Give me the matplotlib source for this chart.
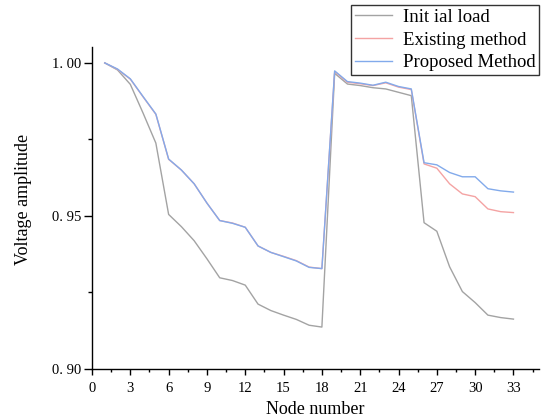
import matplotlib
matplotlib.use("Agg")
import matplotlib.pyplot as plt
from matplotlib.ticker import MultipleLocator

nodes = list(range(1, 34))
initial_load = [1.0000, 0.9977, 0.9930, 0.9836, 0.9738, 0.9505, 0.9465, 0.9419, 0.9360, 0.9298,
                0.9289, 0.9274, 0.9212, 0.9191, 0.9176, 0.9162, 0.9143, 0.9137,
                0.9966, 0.9931, 0.9926, 0.9919, 0.9915, 0.9904, 0.9893,
                0.9478, 0.9450, 0.9334, 0.9253, 0.9217, 0.9176, 0.9168, 0.9163]
existing_method = [1.0000, 0.9979, 0.9947, 0.9889, 0.9832, 0.9685, 0.9650, 0.9605, 0.9542, 0.9485,
                   0.9477, 0.9463, 0.9402, 0.9381, 0.9368, 0.9354, 0.9333, 0.9328,
                   0.9972, 0.9937, 0.9932, 0.9926, 0.9935, 0.9921, 0.9913,
                   0.9670, 0.9656, 0.9605, 0.9572, 0.9563, 0.9523, 0.9514, 0.9511]
proposed_method = [1.0000, 0.9980, 0.9948, 0.9890, 0.9833, 0.9686, 0.9650, 0.9605, 0.9542, 0.9485,
                   0.9476, 0.9463, 0.9402, 0.9381, 0.9367, 0.9353, 0.9332, 0.9328,
                   0.9974, 0.9939, 0.9934, 0.9927, 0.9937, 0.9923, 0.9915,
                   0.9674, 0.9667, 0.9642, 0.9628, 0.9628, 0.9589, 0.9582, 0.9578]
series_labels = ["Init ial load", "Existing method", "Proposed Method"]
xticks = [0, 3, 6, 9, 12, 15, 18, 21, 24, 27, 30, 33]
yticks = [0.90, 0.95, 1.00]
ytick_labels = ["0. 90", "0. 95", "1. 00"]

plt.rcParams['font.family'] = ['Liberation Serif', 'DejaVu Serif']

fig = plt.figure(figsize=(5.42, 4.18), dpi=100)
W, H = 542, 418
left, right, top, bottom = 92, 539, 47, 369
ax = fig.add_axes([left / W, 1 - bottom / H, (right - left) / W, (bottom - top) / H])

ax.plot(nodes, initial_load, color='#a3a3a3', lw=1.0, label=series_labels[0])
ax.plot(nodes, existing_method, color='#f4a3a3', lw=1.0, label=series_labels[1])
ax.plot(nodes, proposed_method, color='#82aaeb', lw=1.0, label=series_labels[2])

ax.set_xlim(0, 35)
ax.set_ylim(0.90, 1.0052)
ax.set_xticks(xticks)
ax.set_yticks(yticks)
ax.set_yticklabels(ytick_labels)
ax.xaxis.set_minor_locator(MultipleLocator(1.5))
ax.yaxis.set_minor_locator(MultipleLocator(0.025))
ax.tick_params(axis='both', which='both', direction='out', labelsize=10.5, width=1.0, colors='black')
ax.tick_params(axis='y', which='major', length=6, pad=2)
ax.tick_params(axis='y', which='minor', length=3)
ax.tick_params(axis='x', which='major', length=4, pad=5)
ax.tick_params(axis='x', which='minor', length=2.5)
for s in ['top', 'right']:
    ax.spines[s].set_visible(False)
for s in ['left', 'bottom']:
    ax.spines[s].set_linewidth(1.0)

ax.set_xlabel("Node number", fontsize=13, labelpad=5)
ax.set_ylabel("Voltage amplitude", fontsize=13)
ax.yaxis.set_label_coords((32 - left) / (right - left), (bottom - 199) / (bottom - top))

leg = fig.legend(loc='upper right', bbox_to_anchor=(539 / W, 1 - 5 / H),
                 fontsize=13.5, frameon=True, fancybox=False, edgecolor='black',
                 handlelength=2.0, handletextpad=0.55, labelspacing=0.3,
                 borderpad=0.2, borderaxespad=0)
leg.get_frame().set_linewidth(1.0)

fig.savefig("out.png", dpi=100)
